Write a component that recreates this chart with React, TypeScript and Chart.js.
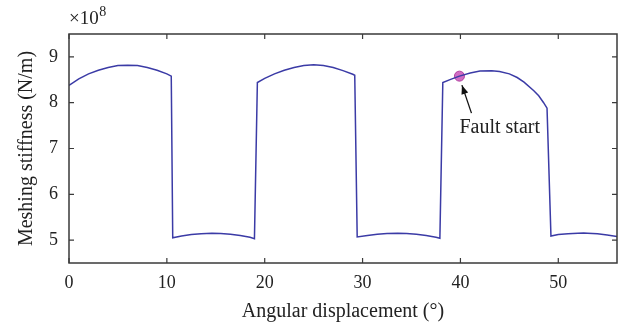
import React, { useEffect, useRef } from "react";
import { Chart, registerables } from "chart.js";

Chart.register(...registerables);

// Angular displacement (degrees)
const angleDeg = [
  0, 1, 2, 3, 4, 5, 6, 7, 8, 9, 10, 10.45,
  10.6, 11.5, 12.5, 13.5, 14.6, 15.5, 16.5, 17.5, 18.5, 18.95,
  19.25, 20, 21, 22, 23, 24, 25, 26, 27, 28, 29, 29.2,
  29.45, 30.5, 31.5, 32.5, 33.6, 34.5, 35.5, 36.5, 37.5, 37.9,
  38.2, 39, 39.9, 41, 42, 43.2, 44, 45, 45.8, 46.5, 47.5, 48, 48.5, 48.85,
  49.25, 50, 51, 52, 52.6, 53, 54, 55, 56,
];

// Meshing stiffness (×10^8 N/m)
const stiffness = [
  8.38, 8.52, 8.63, 8.71, 8.77, 8.81, 8.82, 8.81, 8.77, 8.71, 8.63, 8.58,
  5.05, 5.09, 5.12, 5.14, 5.15, 5.145, 5.13, 5.1, 5.06, 5.03,
  8.44, 8.53, 8.63, 8.71, 8.77, 8.81, 8.83, 8.81, 8.77, 8.7, 8.62, 8.6,
  5.07, 5.1, 5.13, 5.145, 5.15, 5.145, 5.13, 5.1, 5.06, 5.04,
  8.44, 8.51, 8.58, 8.65, 8.69, 8.7, 8.68, 8.63, 8.55, 8.45, 8.26, 8.15, 8.0, 7.88,
  5.09, 5.12, 5.14, 5.15, 5.155, 5.15, 5.14, 5.11, 5.08,
];

// Point where the tooth fault begins
const faultAngle = [39.9];
const faultStiffness = [8.58];
const faultLabel = "Fault start";

const xTicks = [0, 10, 20, 30, 40, 50];
const yTicks = [5, 6, 7, 8, 9];

const SERIF = "'Liberation Serif', 'DejaVu Serif', serif";
const AXIS_COLOR = "#3a3a3a";
const TEXT_COLOR = "#222";

const framePlugin = {
  id: "frame",
  afterDatasetsDraw(chart: any) {
    const { ctx, chartArea: a, scales } = chart;
    const xs = scales.x;
    const ys = scales.y;
    ctx.save();
    // box
    ctx.strokeStyle = AXIS_COLOR;
    ctx.lineWidth = 1.5;
    ctx.strokeRect(a.left, a.top, a.right - a.left, a.bottom - a.top);
    // inner tick marks on all four sides
    const len = 5;
    ctx.lineWidth = 1.2;
    ctx.beginPath();
    xTicks.forEach((v) => {
      const px = xs.getPixelForValue(v);
      ctx.moveTo(px, a.bottom);
      ctx.lineTo(px, a.bottom - len);
      ctx.moveTo(px, a.top);
      ctx.lineTo(px, a.top + len);
    });
    yTicks.forEach((v) => {
      const py = ys.getPixelForValue(v);
      ctx.moveTo(a.left, py);
      ctx.lineTo(a.left + len, py);
      ctx.moveTo(a.right, py);
      ctx.lineTo(a.right - len, py);
    });
    ctx.stroke();

    // fault annotation: arrow and label
    const fx = xs.getPixelForValue(faultAngle[0]);
    const fy = ys.getPixelForValue(faultStiffness[0]);
    const tipX = fx + 2.5;
    const tipY = fy + 9;
    const tailX = fx + 12;
    const tailY = fy + 37;
    ctx.strokeStyle = "#111";
    ctx.fillStyle = "#111";
    ctx.lineWidth = 1.3;
    ctx.beginPath();
    ctx.moveTo(tailX, tailY);
    ctx.lineTo(tipX, tipY);
    ctx.stroke();
    const ang = Math.atan2(tipY - tailY, tipX - tailX);
    const hl = 9;
    const hw = 3.5;
    ctx.beginPath();
    ctx.moveTo(tipX, tipY);
    ctx.lineTo(
      tipX - hl * Math.cos(ang) + hw * Math.sin(ang),
      tipY - hl * Math.sin(ang) - hw * Math.cos(ang)
    );
    ctx.lineTo(
      tipX - hl * Math.cos(ang) - hw * Math.sin(ang),
      tipY - hl * Math.sin(ang) + hw * Math.cos(ang)
    );
    ctx.closePath();
    ctx.fill();

    ctx.fillStyle = TEXT_COLOR;
    ctx.font = `20px ${SERIF}`;
    ctx.textAlign = "left";
    ctx.textBaseline = "middle";
    ctx.fillText(faultLabel, fx, fy + 52);

    // axis titles
    ctx.font = `20px ${SERIF}`;
    ctx.textAlign = "center";
    ctx.fillText("Angular displacement (°)", (a.left + a.right) / 2, 312);
    ctx.save();
    ctx.translate(27, (a.top + a.bottom) / 2);
    ctx.rotate(-Math.PI / 2);
    ctx.fillText("Meshing stiffness (N/m)", 0, 0);
    ctx.restore();

    // exponent
    ctx.textAlign = "left";
    ctx.textBaseline = "alphabetic";
    ctx.font = `19px ${SERIF}`;
    ctx.fillText("×10", a.left, 24);
    const w = ctx.measureText("×10").width;
    ctx.font = `14px ${SERIF}`;
    ctx.fillText("8", a.left + w + 0.5, 16);
    ctx.restore();
  },
};

export default function App() {
  const canvasRef = useRef<HTMLCanvasElement | null>(null);

  useEffect(() => {
    document.body.style.margin = "0";
    const canvas = canvasRef.current;
    if (!canvas) return;
    const chart = new Chart(canvas, {
      type: "line",
      data: {
        datasets: [
          {
            data: angleDeg.map((x, i) => ({ x, y: stiffness[i] })),
            borderColor: "#3b3ba6",
            borderWidth: 1.5,
            pointRadius: 0,
            tension: 0,
            fill: false,
          },
          {
            data: faultAngle.map((x, i) => ({ x, y: faultStiffness[i] })),
            showLine: false,
            pointRadius: 5,
            pointBackgroundColor: "rgba(204, 92, 190, 0.9)",
            pointBorderColor: "#b0409f",
            pointBorderWidth: 1,
          },
        ],
      },
      options: {
        animation: false,
        responsive: false,
        maintainAspectRatio: false,
        layout: { padding: { left: 0, top: 34, right: 15, bottom: 0 } },
        plugins: {
          legend: { display: false },
          tooltip: { enabled: false },
          title: { display: false },
        },
        scales: {
          x: {
            type: "linear",
            min: 0,
            max: 56,
            grid: { display: false, drawTicks: false },
            border: { display: false },
            afterBuildTicks: (s: any) => {
              s.ticks = xTicks.map((value) => ({ value }));
            },
            afterFit: (s: any) => {
              s.height = 67;
            },
            ticks: {
              padding: 9,
              maxRotation: 0,
              color: TEXT_COLOR,
              font: { family: SERIF, size: 18 },
            },
          },
          y: {
            type: "linear",
            min: 4.5,
            max: 9.5,
            grid: { display: false, drawTicks: false },
            border: { display: false },
            afterBuildTicks: (s: any) => {
              s.ticks = yTicks.map((value) => ({ value }));
            },
            afterFit: (s: any) => {
              s.width = 69;
            },
            ticks: {
              padding: 11,
              color: TEXT_COLOR,
              font: { family: SERIF, size: 18 },
            },
          },
        },
      },
      plugins: [framePlugin],
    });
    return () => chart.destroy();
  }, []);

  return (
    <div style={{ width: 632, height: 330, background: "#fff" }}>
      <canvas ref={canvasRef} width={632} height={330} />
    </div>
  );
}
